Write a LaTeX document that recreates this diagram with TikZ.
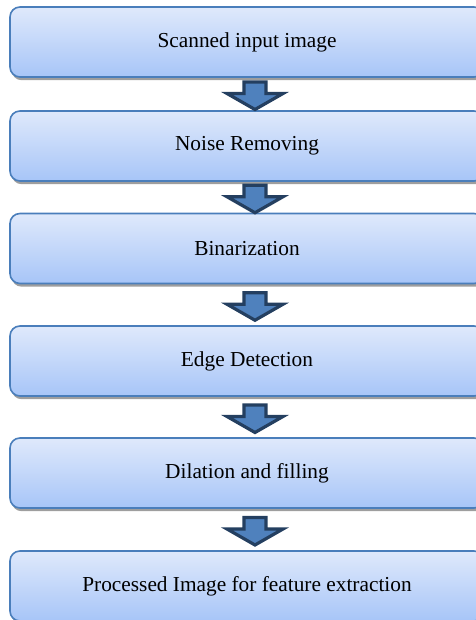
\documentclass[tikz,border=0pt]{standalone}
\usepackage{fontspec}
\setmainfont{Liberation Serif}
\usetikzlibrary{calc,shadows}

% Freccia a blocco tra due passi
\newcommand{\stepArrow}[2]{%
  \coordinate (m) at ($(#1.south)!0.5!(#2.north)+(8,-2)$);
  \draw[flowarrow] ($(m)+(-11,14)$) -- ($(m)+(11,14)$) -- ($(m)+(11,2.5)$)
    -- ($(m)+(28,2.5)$) -- ($(m)+(0,-13.5)$) -- ($(m)+(-28,2.5)$)
    -- ($(m)+(-11,2.5)$) -- cycle;
}

\begin{document}
\begin{tikzpicture}[x=0.75pt, y=0.75pt,
  stepbox/.style={draw=boxLine, line width=1.2pt, rounded corners=7.5pt,
    top color=boxTop, bottom color=boxBot,
    minimum width=355.5pt, minimum height=52.5pt,
    font=\fontsize{16}{19}\selectfont,
    drop shadow={shadow xshift=1.2pt, shadow yshift=-2.4pt, fill=shadowGray, opacity=1}},
  flowarrow/.style={fill=arrowIn, draw=arrowOut, line width=2.4pt, line join=miter}]

% Colori
\definecolor{boxTop}{HTML}{DFE9FB}
\definecolor{boxBot}{HTML}{A7C5F8}
\definecolor{boxLine}{HTML}{4A7EBB}
\definecolor{shadowGray}{HTML}{9E9E9E}
\definecolor{arrowIn}{HTML}{4F81BD}
\definecolor{arrowOut}{HTML}{243F60}

% Area del disegno
\useasboundingbox (0,0) rectangle (475,620);

% Passi
\node[stepbox] (scan) at (247,578) {Scanned input image};
\node[stepbox] (noise) at (247,474) {Noise Removing};
\node[stepbox] (bin) at (247,371.5) {Binarization};
\node[stepbox] (edge) at (247,259) {Edge Detection};
\node[stepbox] (dil) at (247,147) {Dilation and filling};
\node[stepbox] (proc) at (247,34) {Processed Image for feature extraction};

% Frecce
\stepArrow{scan}{noise}
\stepArrow{noise}{bin}
\stepArrow{bin}{edge}
\stepArrow{edge}{dil}
\stepArrow{dil}{proc}

\end{tikzpicture}
\end{document}
